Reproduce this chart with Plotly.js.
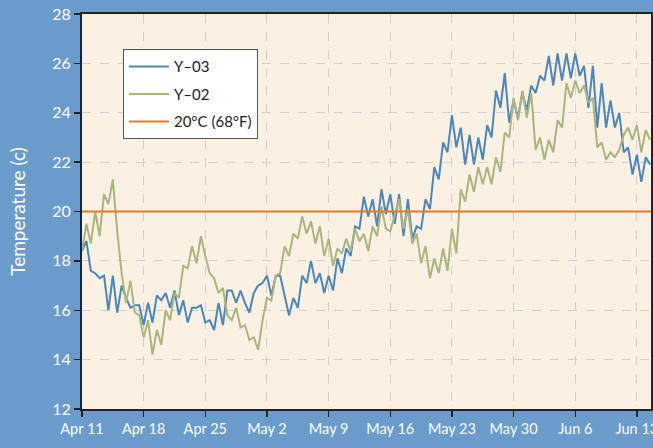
<!DOCTYPE html>
<html>
<head>
<meta charset="utf-8">
<script src="https://cdn.plot.ly/plotly-3.0.1.min.js"></script>
<style>html,body{margin:0;padding:0;background:#6a9bca;}#chart{width:653px;height:448px;}</style>
</head>
<body>
<div id="chart"></div>
<script>
// Half-day readings starting Apr 11 00:00
const startDate = '2023-04-11';
const stepHours = 12;
const seriesNames = ['Y\u201303', 'Y\u201302', '20°C (68°F)'];
const y03 = [
  18.4, 18.8, 17.6, 17.5, 17.3, 17.4, 16.0, 17.4, 15.9, 17.0, 16.5, 16.1, 16.2, 16.2,
  15.4, 16.3, 15.5, 16.6, 16.4, 16.7, 16.1, 16.8, 15.8, 16.4, 15.5, 16.1, 16.1, 16.2,
  15.5, 15.6, 15.2, 16.3, 15.4, 16.8, 16.8, 16.3, 16.8, 16.3, 15.9, 16.7, 17.0, 17.1,
  17.4, 16.6, 17.4, 17.4, 16.6, 15.8, 16.5, 16.1, 17.4, 17.1, 18.0, 17.1,
  17.5, 16.7, 17.4, 16.8, 18.1, 17.5, 18.5, 18.2, 19.4, 19.3, 20.6, 19.8, 20.5, 19.4,
  20.9, 19.9, 20.7, 19.5, 20.7, 19.0, 20.5, 18.9, 19.4, 19.3, 20.5, 20.1, 21.8, 21.3,
  22.8, 22.4, 23.9, 22.6, 23.4, 21.9, 23.1, 21.9, 23.0, 22.1, 23.5, 23.0, 24.9, 24.2,
  25.6, 23.6, 24.5, 23.8, 24.8, 24.1, 25.1, 24.8, 25.5, 25.3,
  26.3, 25.1, 26.4, 25.3, 26.4, 25.4, 26.4, 25.5, 25.9, 24.2, 25.9, 23.4, 25.2, 23.4,
  24.5, 23.4, 24.0, 22.4, 22.6, 21.5, 22.3, 21.2, 22.2, 21.9
];
const y02 = [
  18.4, 19.5, 18.7, 20.0, 19.0, 20.7, 20.3, 21.3, 19.2, 17.5, 16.3, 17.2, 15.9, 15.8,
  14.9, 15.6, 14.2, 15.2, 14.6, 16.0, 15.6, 16.7, 16.5, 17.8, 17.7, 18.6, 17.9, 19.0,
  18.2, 17.5, 17.3, 16.7, 16.9, 15.8, 15.6, 16.1, 15.3, 15.4, 14.8, 14.9, 14.4, 15.6,
  16.5, 16.4, 17.4, 17.5, 18.6, 18.2, 19.1, 18.9, 19.8, 19.1, 19.6, 18.7,
  19.4, 18.2, 18.9, 17.8, 18.5, 18.3, 18.9, 18.4, 19.3, 18.8, 19.1, 18.4, 19.4, 19.0,
  20.2, 19.3, 19.2, 19.8, 20.5, 19.3, 20.1, 18.7, 19.1, 17.9, 18.6, 17.3, 18.1, 17.5,
  18.5, 17.6, 19.3, 18.3, 20.9, 20.4, 21.5, 20.8, 21.8, 21.1, 21.8, 21.1, 22.2, 21.6,
  23.2, 23.0, 24.6, 23.7, 24.9, 23.8, 24.8, 22.5, 23.0, 22.1,
  22.9, 22.4, 23.7, 23.4, 25.2, 24.6, 25.3, 24.8, 25.1, 24.4, 24.6, 22.6, 22.8, 22.1,
  22.4, 22.2, 22.5, 23.1, 23.4, 22.9, 23.5, 22.4, 23.3, 22.9
];
const thresholdC = 20;
const tickLabelsStart = '2023-04-11';
const tickStepDays = 7;

const t0 = Date.parse(startDate + 'T00:00:00Z');
const xs = y03.map((_, i) => t0 + i * stepHours * 3600 * 1000);
const xEnd = xs[xs.length - 1];

const traces = [
  {x: xs, y: y03, name: seriesNames[0], legendgroup: 'a', mode: 'lines', line: {color: '#4a86bb', width: 2}},
  {x: xs, y: y02, name: seriesNames[1], legendgroup: 'b', mode: 'lines', line: {color: '#aab47e', width: 2}},
  {x: [t0, xEnd + 6 * 3600 * 1000], y: [thresholdC, thresholdC], name: seriesNames[2], legendgroup: 'c', mode: 'lines', line: {color: '#e07b27', width: 2}}
];

const fontFam = 'Lato, "Open Sans", sans-serif';
const layout = {
  width: 653, height: 448,
  paper_bgcolor: '#6a9bca',
  plot_bgcolor: '#faf1e3',
  margin: {l: 82, r: 2, t: 14, b: 39},
  font: {family: fontFam, color: '#ffffff', size: 15},
  showlegend: true,
  legend: {
    x: 0.072, y: 0.911, xanchor: 'left', yanchor: 'top',
    bgcolor: '#ffffff', bordercolor: '#555555', borderwidth: 1,
    font: {family: fontFam, color: '#222222', size: 15},
    tracegroupgap: 5, itemwidth: 40
  },
  xaxis: {
    type: 'date',
    range: [t0, t0 + 64.6 * 86400000],
    tick0: Date.parse(tickLabelsStart + 'T00:00:00Z'),
    dtick: tickStepDays * 86400000,
    tickformat: '%b %-d',
    ticks: 'outside', ticklen: 6, tickcolor: '#222', tickwidth: 1.5,
    showline: true, linecolor: '#222', linewidth: 2, mirror: true,
    showgrid: true, gridcolor: '#cfcfcf', griddash: 'dash', gridwidth: 1,
    zeroline: false, ticklabeloverflow: 'allow',
    tickfont: {size: 14.5, color: '#ffffff'}
  },
  yaxis: {
    range: [12, 28], dtick: 2, tick0: 12,
    ticks: 'outside', ticklen: 6, tickcolor: '#222', tickwidth: 1.5,
    showline: true, linecolor: '#222', linewidth: 2, mirror: true,
    showgrid: true, gridcolor: '#cfcfcf', griddash: 'dash', gridwidth: 1,
    zeroline: false,
    tickfont: {size: 16, color: '#ffffff'},
    title: {text: 'Temperature (c)', font: {size: 19, color: '#ffffff'}, standoff: 22}
  }
};
Plotly.newPlot('chart', traces, layout, {displayModeBar: false, staticPlot: true});
</script>
</body>
</html>
